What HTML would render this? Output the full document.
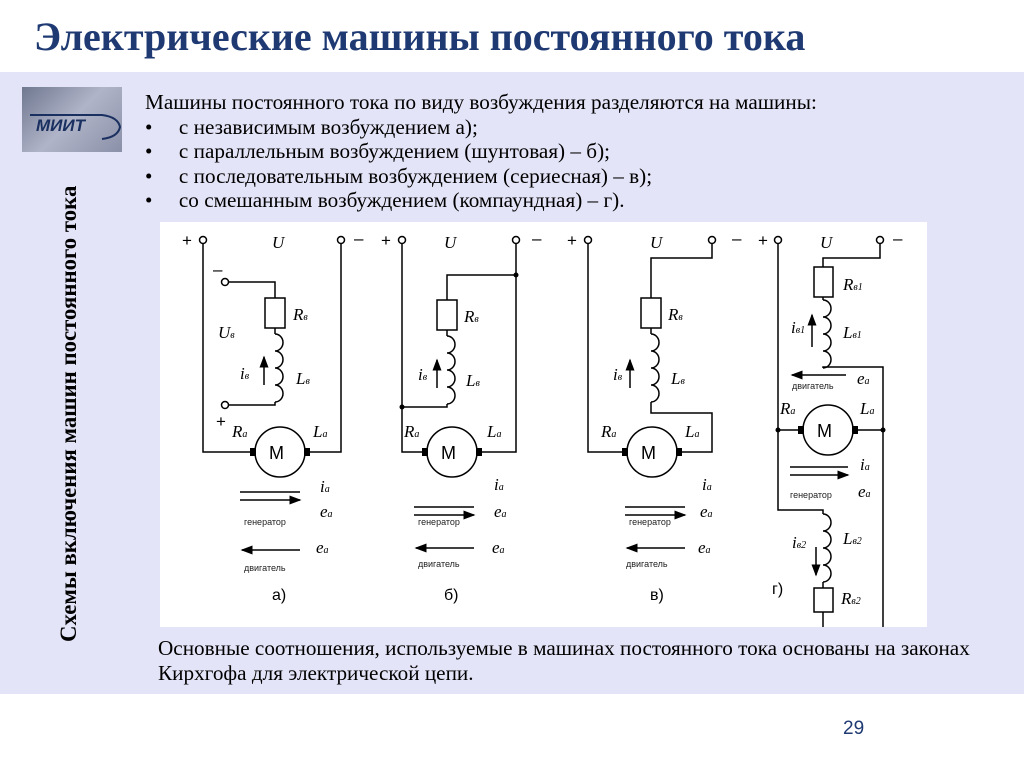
<!DOCTYPE html>
<html><head><meta charset="utf-8"><style>
body{margin:0;width:1024px;height:767px;background:#fff;position:relative;overflow:hidden;font-family:"Liberation Serif",serif}
.t{position:absolute;left:34px;top:13px;font-size:40px;font-weight:bold;color:#1f3a73;white-space:nowrap}
.bg{position:absolute;left:0;top:72px;width:1024px;height:622px;background:#e4e4f8}
.logo{position:absolute;left:22px;top:87px;width:100px;height:65px;background:linear-gradient(135deg,#6f7890,#b0b4c8 50%,#8a90a8)}
.txt{position:absolute;left:145px;top:90px;font-size:21.2px;line-height:24.5px;color:#000;white-space:nowrap}
.vt{position:absolute;left:56px;top:642px;transform-origin:0 0;transform:rotate(-90deg);font-size:22.8px;font-weight:bold;white-space:nowrap}
.bot{position:absolute;left:158px;top:636px;font-size:21.2px;line-height:25px;white-space:nowrap}
.pn{position:absolute;left:843px;top:718px;font-family:"Liberation Sans",sans-serif;font-size:19px;color:#1f3a73}
</style></head><body>
<div class="t">Электрические машины постоянного тока</div>
<div class="bg"></div>
<div class="logo"><svg width="100" height="65"><path d="M8 28 H80 Q96 30 98 40 Q96 50 80 52" fill="none" stroke="#1a3060" stroke-width="2"/><text x="14" y="44" font-family="Liberation Sans" font-size="17" font-weight="bold" font-style="italic" fill="#1a3060">МИИТ</text></svg></div>
<div class="txt">Машины постоянного тока по виду возбуждения разделяются на машины:<br>•&nbsp;&nbsp;&nbsp;&nbsp;&nbsp;с независимым возбуждением а);<br>•&nbsp;&nbsp;&nbsp;&nbsp;&nbsp;с параллельным возбуждением (шунтовая) – б);<br>•&nbsp;&nbsp;&nbsp;&nbsp;&nbsp;с последовательным возбуждением (сериесная) – в);<br>•&nbsp;&nbsp;&nbsp;&nbsp;&nbsp;со смешанным возбуждением (компаундная) – г).</div>
<div class="vt">Схемы включения машин постоянного тока</div>
<div class="bot">Основные соотношения, используемые в машинах постоянного тока основаны на законах<br>Кирхгофа для электрической цепи.</div>
<div class="pn">29</div>
<svg style="position:absolute;left:0;top:0" width="1024" height="767" font-family="Liberation Serif" font-style="italic">
<defs><marker id="ar" markerWidth="8" markerHeight="6" refX="7" refY="3" orient="auto"><path d="M0 0L8 3L0 6z" fill="#000"/></marker>
<path id="coil" d="M0 0 a8 8.5 0 0 1 0 17 a8 8.5 0 0 1 0 17 a8 8.5 0 0 1 0 17 a8 8.5 0 0 1 0 17" fill="none" stroke="#000" stroke-width="1.5"/></defs>
<rect x="160" y="222" width="767" height="405" fill="#fff"/>
<g stroke="#000" stroke-width="1.5" fill="none">
<circle cx="203" cy="240" r="3.5"/><circle cx="341" cy="240" r="3.5"/>
<path d="M203 244V452H255M305 452H341V244"/>
<circle cx="280" cy="452" r="25"/>
<circle cx="225" cy="282" r="3.5"/><circle cx="225" cy="405" r="3.5"/>
<path d="M229 282H275V298M275 328V334M229 405H275V402"/>
<rect x="265" y="298" width="20" height="30"/>
<use href="#coil" x="275" y="334"/>
<path d="M264 385V357" marker-end="url(#ar)"/>
<path d="M240 492H300M240 500H300" marker-end="url(#ar)"/>
<path d="M300 550H242" marker-end="url(#ar)"/>
<circle cx="402" cy="240" r="3.5"/><circle cx="516" cy="240" r="3.5"/>
<path d="M402 244V452H427M477 452H516V244M516 275H447V300M447 330V336M402 407H447V404"/>
<circle cx="452" cy="452" r="25"/>
<rect x="437" y="300" width="20" height="30"/>
<use href="#coil" x="447" y="336"/>
<path d="M437 388V360" marker-end="url(#ar)"/>
<path d="M414 507H474M414 515H474" marker-end="url(#ar)"/>
<path d="M474 548H416" marker-end="url(#ar)"/>
<circle cx="588" cy="240" r="3.5"/><circle cx="712" cy="240" r="3.5"/>
<path d="M588 244V452H627M677 452H712V413H651V402M712 244V258H651V298M651 328V334"/>
<circle cx="652" cy="452" r="25"/>
<rect x="641" y="298" width="20" height="30"/>
<use href="#coil" x="651" y="334"/>
<path d="M630 388V360" marker-end="url(#ar)"/>
<path d="M625 507H685M625 515H685" marker-end="url(#ar)"/>
<path d="M685 548H627" marker-end="url(#ar)"/>
<circle cx="778" cy="240" r="3.5"/><circle cx="880" cy="240" r="3.5"/>
<path d="M778 244V510H823V514M880 244V258H823V267M823 297V300M823 368V367H883V627M778 430H803M853 430H883M823 582V588M823 612V627"/>
<circle cx="828" cy="430" r="25"/>
<rect x="814" y="267" width="19" height="30"/>
<rect x="814" y="588" width="19" height="24"/>
<use href="#coil" x="823" y="300"/>
<use href="#coil" x="823" y="514"/>
<path d="M812 347V315" marker-end="url(#ar)"/>
<path d="M846 375H792" marker-end="url(#ar)"/>
<path d="M790 467H848M790 475H848" marker-end="url(#ar)"/>
<path d="M816 547V575" marker-end="url(#ar)"/>
</g>
<g fill="#000"><circle cx="778" cy="430" r="2.5"/><circle cx="883" cy="430" r="2.5"/><circle cx="516" cy="275" r="2.5"/><circle cx="402" cy="407" r="2.5"/>
<rect x="250" y="448" width="6" height="8"/><rect x="304" y="448" width="6" height="8"/><rect x="422" y="448" width="6" height="8"/><rect x="476" y="448" width="6" height="8"/><rect x="622" y="448" width="6" height="8"/><rect x="676" y="448" width="6" height="8"/><rect x="798" y="426" width="6" height="8"/><rect x="852" y="426" width="6" height="8"/></g>
<g font-size="17">
<text x="272" y="248">U</text><text x="444" y="248">U</text><text x="650" y="248">U</text><text x="820" y="248">U</text>
<text x="293" y="320">R<tspan font-size="10">в</tspan></text><text x="218" y="338">U<tspan font-size="10">в</tspan></text><text x="240" y="379">i<tspan font-size="10">в</tspan></text><text x="296" y="384">L<tspan font-size="10">в</tspan></text>
<text x="232" y="437">R<tspan font-size="10">a</tspan></text><text x="313" y="437">L<tspan font-size="10">a</tspan></text>
<text x="320" y="492">i<tspan font-size="10">a</tspan></text><text x="320" y="517">e<tspan font-size="10">a</tspan></text><text x="316" y="553">e<tspan font-size="10">a</tspan></text>
<text x="464" y="322">R<tspan font-size="10">в</tspan></text><text x="418" y="380">i<tspan font-size="10">в</tspan></text><text x="466" y="386">L<tspan font-size="10">в</tspan></text>
<text x="404" y="437">R<tspan font-size="10">a</tspan></text><text x="487" y="437">L<tspan font-size="10">a</tspan></text>
<text x="494" y="490">i<tspan font-size="10">a</tspan></text><text x="494" y="517">e<tspan font-size="10">a</tspan></text><text x="492" y="553">e<tspan font-size="10">a</tspan></text>
<text x="668" y="320">R<tspan font-size="10">в</tspan></text><text x="613" y="380">i<tspan font-size="10">в</tspan></text><text x="671" y="384">L<tspan font-size="10">в</tspan></text>
<text x="601" y="437">R<tspan font-size="10">a</tspan></text><text x="685" y="437">L<tspan font-size="10">a</tspan></text>
<text x="702" y="490">i<tspan font-size="10">a</tspan></text><text x="700" y="517">e<tspan font-size="10">a</tspan></text><text x="698" y="553">e<tspan font-size="10">a</tspan></text>
<text x="843" y="290">R<tspan font-size="10">в1</tspan></text><text x="791" y="333">i<tspan font-size="10">в1</tspan></text><text x="843" y="338">L<tspan font-size="10">в1</tspan></text>
<text x="857" y="384">e<tspan font-size="10">a</tspan></text><text x="780" y="414">R<tspan font-size="10">a</tspan></text><text x="860" y="414">L<tspan font-size="10">a</tspan></text>
<text x="860" y="470">i<tspan font-size="10">a</tspan></text><text x="858" y="497">e<tspan font-size="10">a</tspan></text>
<text x="792" y="548">i<tspan font-size="10">в2</tspan></text><text x="843" y="544">L<tspan font-size="10">в2</tspan></text><text x="841" y="604">R<tspan font-size="10">в2</tspan></text>
</g>
<g font-family="Liberation Sans" font-style="normal" font-size="17">
<text x="182" y="246">+</text><text x="354" y="244">–</text><text x="213" y="275">–</text><text x="216" y="427">+</text>
<text x="381" y="246">+</text><text x="532" y="244">–</text><text x="567" y="246">+</text><text x="732" y="244">–</text><text x="758" y="246">+</text><text x="893" y="244">–</text>
<text x="269" y="459" font-size="18">M</text><text x="441" y="459" font-size="18">M</text><text x="641" y="459" font-size="18">M</text><text x="817" y="437" font-size="18">M</text>
<text x="272" y="600" font-size="16">а)</text><text x="444" y="600" font-size="16">б)</text><text x="650" y="600" font-size="16">в)</text><text x="772" y="594" font-size="16">г)</text>
</g>
<g font-family="Liberation Sans" font-style="normal" font-size="9" fill="#222">
<text x="244" y="525">генератор</text><text x="244" y="571">двигатель</text>
<text x="418" y="525">генератор</text><text x="418" y="567">двигатель</text>
<text x="629" y="525">генератор</text><text x="626" y="567">двигатель</text>
<text x="792" y="389">двигатель</text><text x="790" y="498">генератор</text>
</g>
</svg>
</body></html>
